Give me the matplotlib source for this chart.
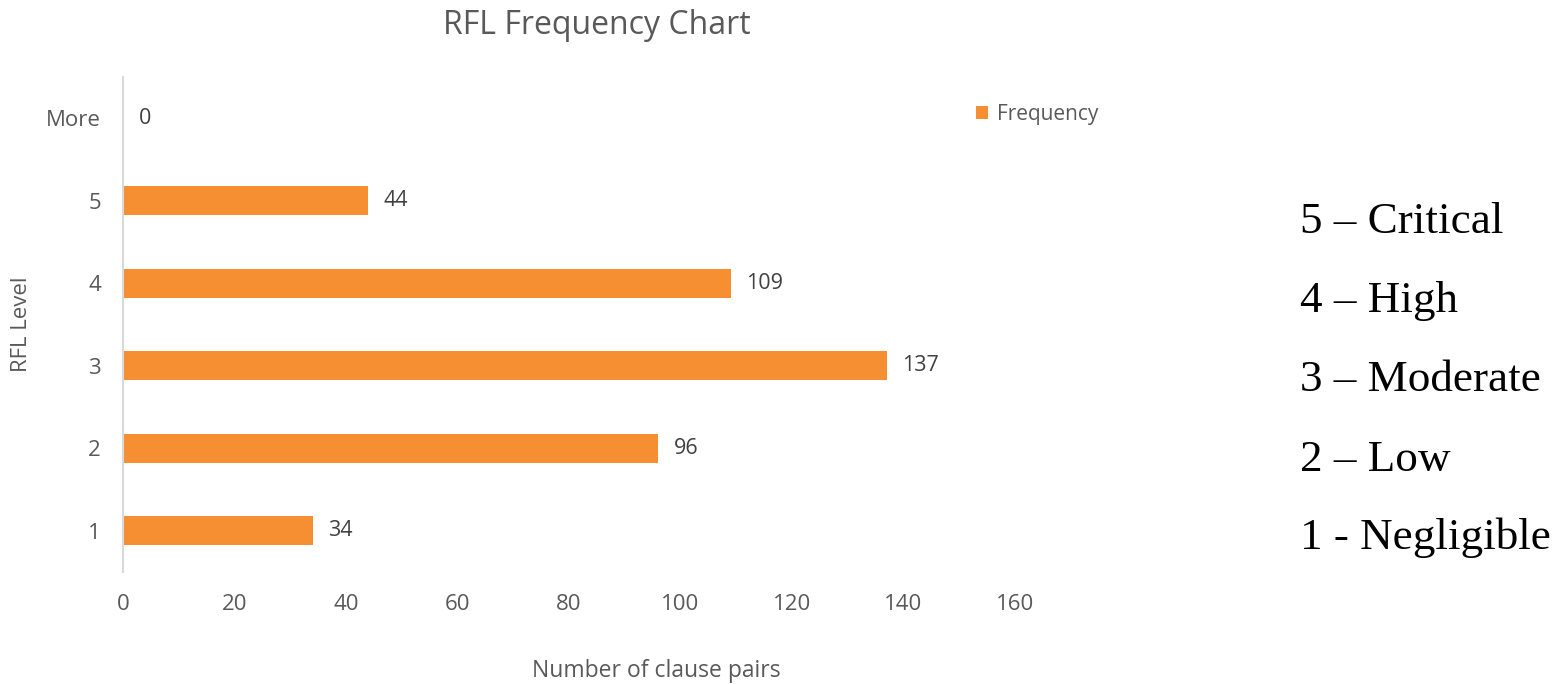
import matplotlib.pyplot as plt
import numpy as np

levels = ['1', '2', '3', '4', '5', 'More']
frequency = [34, 96, 137, 109, 44, 0]
xticks = [0, 20, 40, 60, 80, 100, 120, 140, 160]
scale_text = ['5 – Critical', '4 – High', '3 – Moderate', '2 – Low', '1 - Negligible']

plt.rcParams['font.family'] = ['Open Sans', 'DejaVu Sans']
bar_color = '#F58F31'
gray = '#595959'

fig = plt.figure(figsize=(15.55, 6.84), dpi=100)
ax = fig.add_axes([0.0791, 0.1637, 0.5736, 0.7237])

y_pos = np.arange(len(levels))
bars = ax.barh(y_pos, frequency, height=0.35, color=bar_color, label='Frequency')

for y, v in zip(y_pos, frequency):
    ax.text(v + 2.8, y, str(v), va='center', ha='left', fontsize=15.5, color='#404040')

ax.set_xlim(0, 160)
ax.set_ylim(-0.5, 5.5)
ax.set_yticks(y_pos)
ax.set_yticklabels(levels)
ax.set_xticks(xticks)
ax.tick_params(axis='both', length=0, labelsize=16, labelcolor=gray)
ax.tick_params(axis='x', pad=16)
ax.tick_params(axis='y', pad=16)

for s in ['top', 'right', 'bottom']:
    ax.spines[s].set_visible(False)
ax.spines['left'].set_color('#D9D9D9')
ax.spines['left'].set_linewidth(1.5)

ax.set_xlabel('Number of clause pairs', fontsize=16.5, color=gray, va='center')
ax.xaxis.set_label_coords(0.598, -0.2)
ax.set_ylabel('RFL Level', fontsize=16, color=gray, labelpad=10)

fig.text(0.384, 0.962, 'RFL Frequency Chart', ha='center', va='center', fontsize=23, color=gray)

ax.legend(loc='center left', bbox_to_anchor=(0.935, 0.925), frameon=False,
          fontsize=15, labelcolor=gray, handlelength=0.6, handleheight=0.6,
          handletextpad=0.4)

text_y = [222, 301, 380, 460, 538]
for t, py in zip(scale_text, text_y):
    fig.text(1300 / 1555, 1 - py / 684, t, ha='left', va='center', fontsize=32.5,
             family='Liberation Serif', color='black')

fig.savefig('out.png', dpi=100)
